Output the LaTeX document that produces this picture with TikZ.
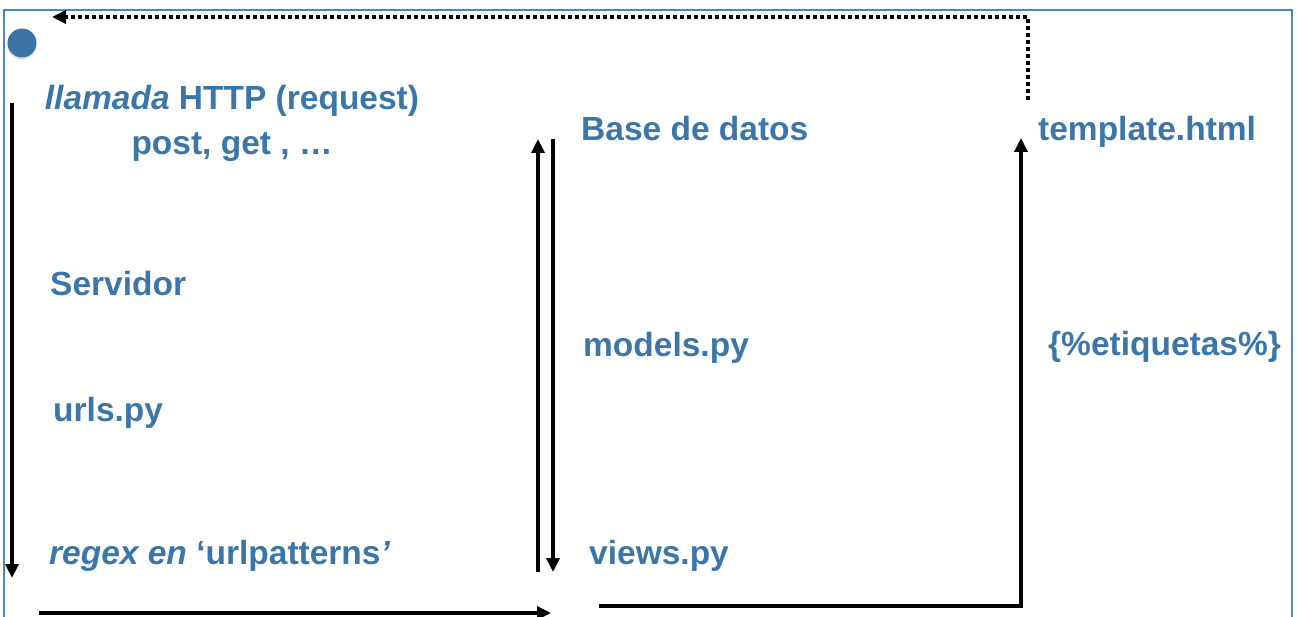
\documentclass[tikz,border=0pt]{standalone}
\usepackage{fontspec}
\setmainfont{Liberation Sans}
\usetikzlibrary{arrows.meta}
\definecolor{txtblue}{HTML}{3A76A9}
\definecolor{frameblue}{HTML}{4A86C2}
\definecolor{dotblue}{HTML}{3A74A8}
\begin{document}
\begin{tikzpicture}[x=1pt,y=-1pt,
  lbl/.style={text=txtblue,font=\fontsize{33.5}{40}\selectfont\bfseries,
    inner sep=0pt,anchor=base west},
  flow/.style={line width=3.4pt,-{Triangle[length=14pt,width=13pt]}},
  back/.style={line width=3.6pt,dash pattern=on 3.6pt off 3.4pt,
    -{Triangle[length=14pt,width=13pt]}}]
\useasboundingbox (0,0) rectangle (1297,617);

% open frame around the diagram
\draw[frameblue,line width=2.2pt] (4,617) -- (4,10) -- (1292,10) -- (1292,617);

% start marker
\fill[black,opacity=0.12] (22,45) circle (14.5pt);
\fill[dotblue] (22,43) circle (14.5pt);

% labels
\node[lbl,anchor=base] (req1) at (232,110) {\textit{llamada} HTTP (request)};
\node[lbl,anchor=base] (req2) at (232,155) {post, get , …};
\node[lbl] (db) at (581,141) {Base de datos};
\node[lbl] (tpl) at (1038,141) {template.html};
\node[lbl] (srv) at (50,295) {Servidor};
\node[lbl] (models) at (583,356) {models.py};
\node[lbl] (tags) at (1048,355) {\{\%etiquetas\%\}};
\node[lbl] (urls) at (53,421) {urls.py};
\node[lbl] (regex) at (49,564) {\textit{regex en} ‘urlpatterns\textit{’}};
\node[lbl] (views) at (589,564) {views.py};

% connector end points
\coordinate (a1) at (12,103);
\coordinate (a2) at (12,578);
\coordinate (b1) at (538,572);
\coordinate (b2) at (538,139);
\coordinate (c1) at (553,139);
\coordinate (c2) at (553,572);
\coordinate (d1) at (39,613);
\coordinate (d2) at (551,613);
\coordinate (e1) at (599,606);
\coordinate (e2) at (1021,138);
\coordinate (f1) at (1028,100);
\coordinate (f2) at (52,17);

% request flow
\draw[flow] (a1) -- (a2);
\draw[flow] (d1) -- (d2);
\draw[flow] (b1) -- (b2);
\draw[flow] (c1) -- (c2);
\draw[flow] (e1) -| (e2);
% rendered response back to the client
\draw[back] (f1) |- (f2);
\end{tikzpicture}
\end{document}
